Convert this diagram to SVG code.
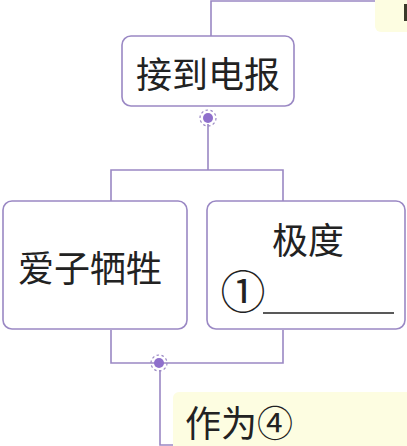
<svg xmlns="http://www.w3.org/2000/svg" width="407" height="446" viewBox="0 0 407 446">
<style>
.box{fill:#ffffff;stroke:#9a88c4;stroke-width:1.6}
.conn{fill:none;stroke:#9a88c4;stroke-width:1.6}
.yel{fill:#fdfde1;stroke:none}
.t{font-family:"Noto Sans CJK SC","Noto Sans",sans-serif;font-size:36px;fill:#222222}
.dot{fill:#8f70cc}
.ring{fill:none;stroke:#9a88c4;stroke-width:1.2;stroke-dasharray:2.5 2.5}
</style>
<rect width="407" height="446" fill="#ffffff"/>
<g id="top-box">
<rect class="yel" x="375" y="-6" width="40" height="38" rx="6"/>
<rect x="404" y="4" width="3" height="17" fill="#3a3a2a"/>
</g>
<g id="bottom-box">
<rect class="yel" x="173" y="392" width="240" height="60" rx="6"/>
<text class="t" x="185" y="437">作为④</text>
</g>
<g id="connectors">
<path class="conn" d="M375,1 H211 V36"/>
<path class="conn" d="M208,124 V170 M111,201 V170 H283 V201"/>
<path class="conn" d="M111,330 V363 H283 V330"/>
<path class="conn" d="M160,370 V445 H173"/>
<circle class="ring" cx="208" cy="118" r="8"/>
<circle class="dot" cx="208" cy="118" r="5"/>
<circle class="ring" cx="159" cy="363" r="8"/>
<circle class="dot" cx="159" cy="363" r="5"/>
</g>
<g id="node-jiedao">
<rect class="box" x="122" y="36" width="172" height="70" rx="9"/>
<text class="t" x="208" y="88" text-anchor="middle">接到电报</text>
</g>
<g id="node-aizi">
<rect class="box" x="3" y="201" width="184" height="128" rx="9"/>
<text class="t" x="90" y="282" text-anchor="middle">爱子牺牲</text>
</g>
<g id="node-jidu">
<rect class="box" x="207" y="201" width="198" height="128" rx="9"/>
<text class="t" x="308" y="254" text-anchor="middle">极度</text>
<text class="t" x="243" y="309" text-anchor="middle" style="font-size:45px">①</text>
<line x1="263" y1="313" x2="394" y2="313" stroke="#222222" stroke-width="1.6"/>
</g>
</svg>
